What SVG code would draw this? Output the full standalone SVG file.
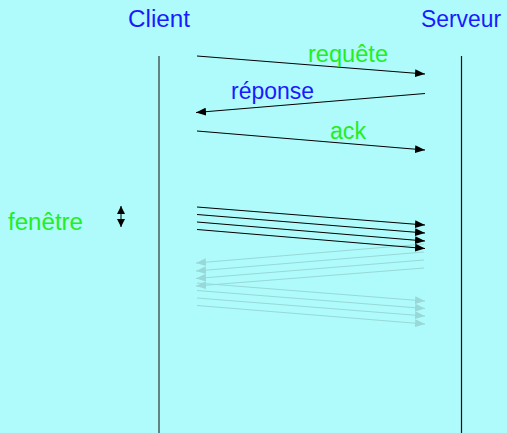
<svg xmlns="http://www.w3.org/2000/svg" width="507" height="433" viewBox="0 0 507 433">
<defs>
<style>
text{font-family:"Liberation Sans","DejaVu Sans",sans-serif;font-size:23.5px}
.b{fill:#1a1aff}
.g{fill:#22ee22}
.a{stroke:#000;stroke-width:1;fill:none;marker-end:url(#ah)}
.f{stroke:#98d8d8;stroke-width:1;fill:none;marker-end:url(#fh)}
</style>
<marker id="ah" viewBox="0 0 10 8" refX="10" refY="4" markerWidth="10" markerHeight="8" markerUnits="userSpaceOnUse" orient="auto"><path d="M0,0 L10,4 L0,8 Z" fill="#000"/></marker>
<marker id="fh" viewBox="0 0 10 8" refX="10" refY="4" markerWidth="10" markerHeight="8" markerUnits="userSpaceOnUse" orient="auto"><path d="M0,0 L10,4 L0,8 Z" fill="#98d8d8"/></marker>
<marker id="sh" viewBox="0 0 8 8" refX="8" refY="4" markerWidth="8" markerHeight="8" markerUnits="userSpaceOnUse" orient="auto"><path d="M0,0 L8,4 L0,8 Z" fill="#000"/></marker>
</defs>
<rect width="507" height="433" fill="#affbfb"/>
<g id="client">
<text class="b" x="128" y="27" textLength="62" lengthAdjust="spacingAndGlyphs">Client</text>
<line x1="159" y1="56" x2="159" y2="433" stroke="#4a5a5a" stroke-width="1.5"/>
</g>
<g id="serveur">
<text class="b" x="421" y="27" textLength="80" lengthAdjust="spacingAndGlyphs">Serveur</text>
<line x1="461.5" y1="56" x2="461.5" y2="433" stroke="#111" stroke-width="1.2"/>
</g>
<g id="fenetre">
<text class="g" x="8" y="230" textLength="75" lengthAdjust="spacingAndGlyphs">fenêtre</text>
<line x1="121" y1="216" x2="121" y2="206" stroke="#000" marker-end="url(#sh)"/>
<line x1="121" y1="216" x2="121" y2="227" stroke="#000" marker-end="url(#sh)"/>
</g>
<g id="connectors">
<line class="a" x1="197" y1="56" x2="425" y2="74"/>
<text class="g" x="308" y="62" textLength="80" lengthAdjust="spacingAndGlyphs">requête</text>
<line class="a" x1="425" y1="93.5" x2="196" y2="112.5"/>
<text class="b" x="231" y="99" textLength="83" lengthAdjust="spacingAndGlyphs">réponse</text>
<line class="a" x1="197" y1="131" x2="425" y2="150"/>
<text class="g" x="330" y="139" textLength="36" lengthAdjust="spacingAndGlyphs">ack</text>
<line class="f" x1="424" y1="244" x2="196" y2="263"/>
<line class="f" x1="424" y1="252" x2="196" y2="271"/>
<line class="f" x1="424" y1="260" x2="196" y2="278.5"/>
<line class="f" x1="424" y1="268" x2="196" y2="286"/>
<line class="f" x1="197" y1="283" x2="425" y2="301"/>
<line class="f" x1="197" y1="290.5" x2="425" y2="308.5"/>
<line class="f" x1="197" y1="298" x2="425" y2="316"/>
<line class="f" x1="197" y1="305.5" x2="425" y2="324"/>
<line class="a" x1="197" y1="207" x2="425" y2="225"/>
<line class="a" x1="197" y1="214.5" x2="425" y2="233"/>
<line class="a" x1="197" y1="222" x2="425" y2="241"/>
<line class="a" x1="197" y1="229.5" x2="425" y2="248.5"/>
</g>
</svg>
